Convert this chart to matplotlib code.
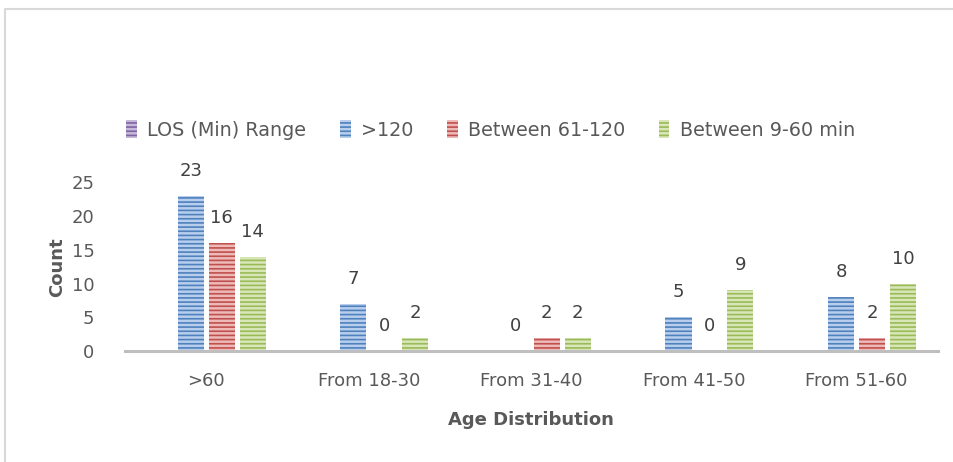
import matplotlib as mpl
import matplotlib.pyplot as plt
import numpy as np

config = {
    "font.family": ["DejaVu Sans"],
    "font.size": 13,
    "hatch.linewidth": 1.2,
}
mpl.rcParams.update(config)

# data
categories = [">60", "From 18-30", "From 31-40", "From 41-50", "From 51-60"]
series_names = ["LOS (Min) Range", ">120", "Between 61-120", "Between 9-60 min"]
los_range = [np.nan, np.nan, np.nan, np.nan, np.nan]  # empty series, legend only
over_120 = [23, 7, 0, 5, 8]
between_61_120 = [16, 0, 2, 0, 2]
between_9_60 = [14, 2, 2, 9, 10]
yticks = [0, 5, 10, 15, 20, 25]

series = [los_range, over_120, between_61_120, between_9_60]
face = ["#C5B8D8", "#B8CEEC", "#EDBAB8", "#D8E6B8"]
stripe = ["#8064A2", "#4F81BD", "#C0504D", "#9BBB59"]
fs = 13

fig = plt.figure(figsize=(9.54, 4.62), dpi=100)
ax = fig.add_axes([0.131, 0.2403, 0.852, 0.3647])

x = np.arange(len(categories))
step = 0.19
width = 0.16
for k, vals in enumerate(series):
    vals = np.array(vals, dtype=float)
    pos = x + (k - 1.5) * step
    bars = ax.bar(pos, np.nan_to_num(vals), width, color=face[k], edgecolor=stripe[k],
                  hatch="----", linewidth=0, label=series_names[k])
    for p, v in zip(pos, vals):
        if np.isnan(v):
            continue
        ax.annotate(str(int(v)), (p, v), xytext=(0, 18), textcoords="offset points",
                    ha="center", va="center", color="#404040", fontsize=fs,
                    annotation_clip=False)

ax.set_xlim(-0.5, 4.5)
ax.set_ylim(0, 25)
ax.set_yticks(yticks)
ax.set_xticks(x)
ax.set_xticklabels(categories)
ax.tick_params(axis="both", length=0, colors="#595959", labelsize=fs)
ax.tick_params(axis="x", pad=15)
ax.tick_params(axis="y", pad=22)
for loc in ["top", "right", "left"]:
    ax.spines[loc].set_visible(False)
ax.spines["bottom"].set_color("#BFBFBF")
ax.spines["bottom"].set_linewidth(2.2)

ax.set_ylabel("Count", fontweight="bold", color="#595959", fontsize=fs, labelpad=4)
ax.set_xlabel("Age Distribution", fontweight="bold", color="#595959", fontsize=fs, labelpad=15)

leg = ax.legend(loc="center", bbox_to_anchor=(0.5145, 1 - 130 / 462), bbox_transform=fig.transFigure,
                ncol=4, frameon=False, handlelength=0.55, handleheight=1.0, handletextpad=0.55,
                columnspacing=1.75, fontsize=13.8, labelcolor="#595959")

# outer chart border (top and left edges visible in the crop)
fig.add_artist(plt.Line2D([5.5 / 954, 5.5 / 954, 1], [0, 1 - 9 / 462, 1 - 9 / 462],
                          transform=fig.transFigure, color="#D9D9D9", linewidth=1.5))

plt.savefig("out.png", dpi=100)
plt.close()
